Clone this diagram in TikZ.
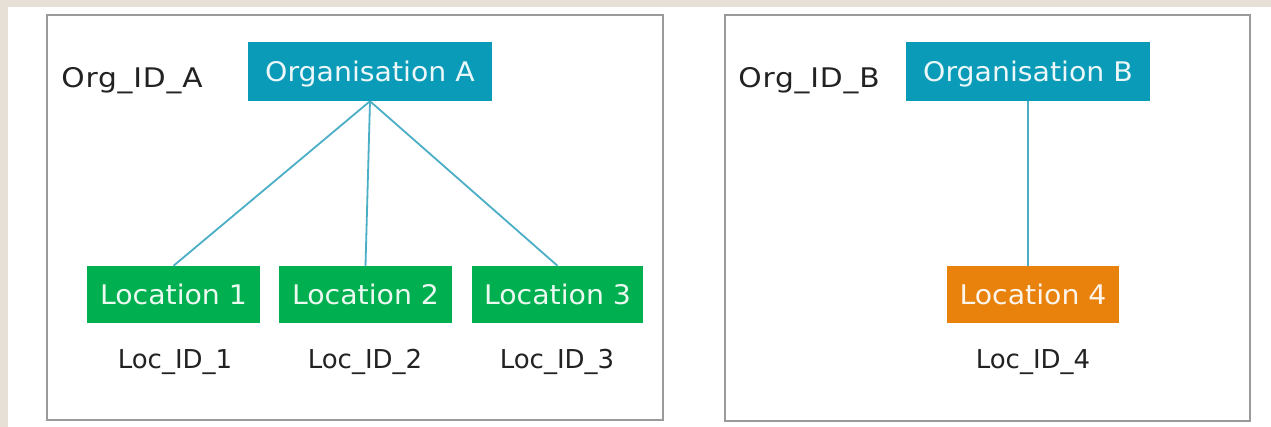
\documentclass[tikz,border=0pt]{standalone}
\usepackage{fontspec}
\setmainfont{DejaVu Sans}
\newfontfamily\boxfont[FakeStretch=1.05]{DejaVu Sans}
\newfontfamily\orgidfont[FakeStretch=1.1,LetterSpace=3]{DejaVu Sans}
\definecolor{beige}{HTML}{E6E0D6}
\definecolor{teal}{HTML}{0A9BB8}
\definecolor{linkc}{HTML}{4AAFC6}
\definecolor{locgreen}{HTML}{00B050}
\definecolor{locorange}{HTML}{E8820C}
\definecolor{panelc}{HTML}{9A9A9A}
\definecolor{txt}{HTML}{222222}
\begin{document}
\begin{tikzpicture}[x=1pt,y=-1pt,
  font=\fontsize{26}{30}\selectfont,
  panel/.style={draw=panelc,line width=1.8pt,fill=white},
  orgbox/.style={fill=teal,text=white!92!teal,minimum width=244pt,minimum height=59pt,inner sep=0pt,anchor=center,font=\boxfont\fontsize{27}{30}\selectfont,text depth=0pt,text height=20pt},
  locbox/.style={fill=locgreen,text=white!92!locgreen,minimum width=173pt,minimum height=57pt,inner sep=0pt,anchor=center,font=\boxfont\fontsize{27}{30}\selectfont},
  idlabel/.style={text=txt,inner sep=0pt,anchor=center},
  orgid/.style={idlabel,font=\orgidfont\fontsize{27}{30}\selectfont},
  link/.style={draw=linkc,line width=1.8pt}]
\useasboundingbox (0,0) rectangle (1271,427);
\fill[white] (0,0) rectangle (1271,427);
\fill[beige] (0,0) rectangle (1271,7);
\fill[beige] (0,0) rectangle (8,427);
% panels
\draw[panel] (47,15) rectangle (663,420);
\draw[panel] (725,15) rectangle (1250,421);
% panel A
\node[orgid] (orgida) at (132,81) {Org\_ID\_A};
\node[orgbox] (orga) at (370,71.5) {Organisation A};
\node[locbox] (loc1) at (173.5,294.5) {Location 1};
\node[locbox] (loc2) at (365.5,294.5) {Location 2};
\node[locbox, minimum width=171pt] (loc3) at (557.5,294.5) {Location 3};
\node[idlabel] (lid1) at (175,362) {Loc\_ID\_1};
\node[idlabel] (lid2) at (365,362) {Loc\_ID\_2};
\node[idlabel] (lid3) at (557,362) {Loc\_ID\_3};
\draw[link] (orga.south) -- (loc1.north);
\draw[link] (orga.south) -- (loc2.north);
\draw[link] (orga.south) -- (loc3.north);
% panel B
\node[orgid] (orgidb) at (809,81) {Org\_ID\_B};
\node[orgbox] (orgb) at (1028,71.5) {Organisation B};
\node[locbox, fill=locorange, text=white!92!locorange, minimum width=172pt] (loc4) at (1033,294.5) {Location 4};
\node[idlabel] (lid4) at (1033,362) {Loc\_ID\_4};
\draw[link] (orgb.south) -- (orgb.south |- loc4.north);
\end{tikzpicture}
\end{document}
